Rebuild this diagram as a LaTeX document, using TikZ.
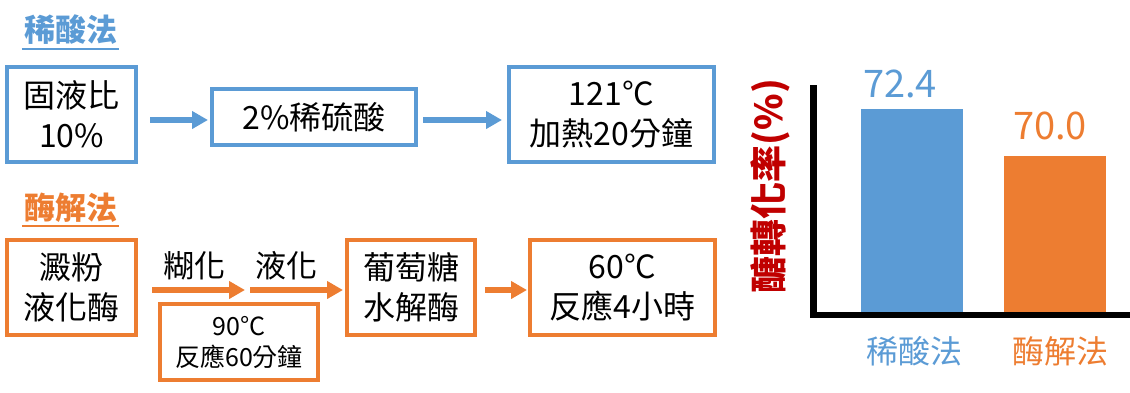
\documentclass[tikz,border=0pt]{standalone}
\usepackage{fontspec}
\setmainfont{Noto Sans CJK TC}
\usetikzlibrary{arrows.meta,calc}
\definecolor{cblue}{HTML}{5B9BD5}
\definecolor{corange}{HTML}{ED7D31}
\definecolor{cred}{HTML}{C00000}
\begin{document}
\begin{tikzpicture}[x=1pt,y=-1pt,
  box/.style={draw, line width=4pt, inner sep=0pt, align=center, font=\fontsize{32}{40}\selectfont},
  bbox/.style={box, draw=cblue},
  obox/.style={box, draw=corange},
  arr/.style={line width=5.5pt, -{Triangle[length=16pt,width=17pt]}},
  barr/.style={arr, draw=cblue},
  oarr/.style={arr, draw=corange},
  title/.style={inner sep=0pt, font=\fontsize{31}{31}\selectfont\bfseries},
  lbl/.style={inner sep=0pt, font=\fontsize{31}{31}\selectfont},
  num/.style={inner sep=0pt, font=\fontsize{38}{38}\selectfont},
  axis/.style={draw=black}
]
\useasboundingbox (0,0) rectangle (1130,392);

% --- acid method
\node[title, text=cblue] (t1) at (70.5,30) {稀酸法};
\draw[cblue, line width=2pt] ($(t1.south west)+(-2,3.5)$) -- ($(t1.south east)+(2,3.5)$);
\node[bbox, minimum width=129pt, minimum height=95pt] (b1) at (71.5,114.5) {固液比\\10\%};
\node[bbox, minimum width=204pt, minimum height=56pt] (b2) at (314,117) {2\%稀硫酸};
\node[bbox, minimum width=205pt, minimum height=95pt] (b3) at (611.5,114.5) {121°C\\加熱20分鐘};
\draw[barr, shorten <=12pt, shorten >=2pt] (b1.east |- 0,120) -- (b2.west |- 0,120);
\draw[barr, shorten <=5pt, shorten >=5pt] (b2.east |- 0,120) -- (b3.west |- 0,120);

% --- enzyme method
\node[title, text=corange] (t2) at (70.5,208) {酶解法};
\draw[corange, line width=2pt] ($(t2.south west)+(-2,3.5)$) -- ($(t2.south east)+(2,3.5)$);
\node[obox, minimum width=129pt, minimum height=95pt] (b4) at (71.5,287.5) {澱粉\\液化酶};
\node[obox, minimum width=128pt, minimum height=95pt] (b6) at (411,287.5) {葡萄糖\\水解酶};
\node[obox, minimum width=185pt, minimum height=95pt] (b7) at (622.5,287.5) {60°C\\反應4小時};
\node[obox, minimum width=158pt, minimum height=76pt, font=\fontsize{25}{31}\selectfont] (b5) at (239,342) {90°C\\反應60分鐘};
\coordinate (m) at (247.5,290);
\draw[oarr, shorten <=14pt, shorten >=2.5pt] (b4.east |- m) -- (m);
\draw[oarr, shorten <=2.5pt, shorten >=2pt] (m) -- (b6.west |- m);
\draw[oarr, shorten <=8pt, shorten >=1pt] (b6.east |- m) -- (b7.west |- m);
\node[lbl] (l1) at (194,266) {糊化};
\node[lbl] (l2) at (286,266) {液化};

% --- chart
\fill[cblue] (861,109) rectangle (963,314);
\fill[corange] (1004,156) rectangle (1106,314);
\draw[line width=7pt] (813.5,85) -- (813.5,317.5);
\draw[line width=6pt] (810,314.5) -- (1130,314.5);
\node[num, text=cblue] (v1) at (900,84) {72.4};
\node[num, text=corange] (v2) at (1050,126) {70.0};
\node[lbl, text=cblue, font=\fontsize{32}{32}\selectfont] (x1) at (914,351) {稀酸法};
\node[lbl, text=corange, font=\fontsize{32}{32}\selectfont] (x2) at (1060,351) {酶解法};
\node[inner sep=0pt, rotate=90, text=cred, font=\fontsize{37}{37}\selectfont\bfseries] (yl) at (770,186) {醣轉化率(\%)};
\end{tikzpicture}
\end{document}
